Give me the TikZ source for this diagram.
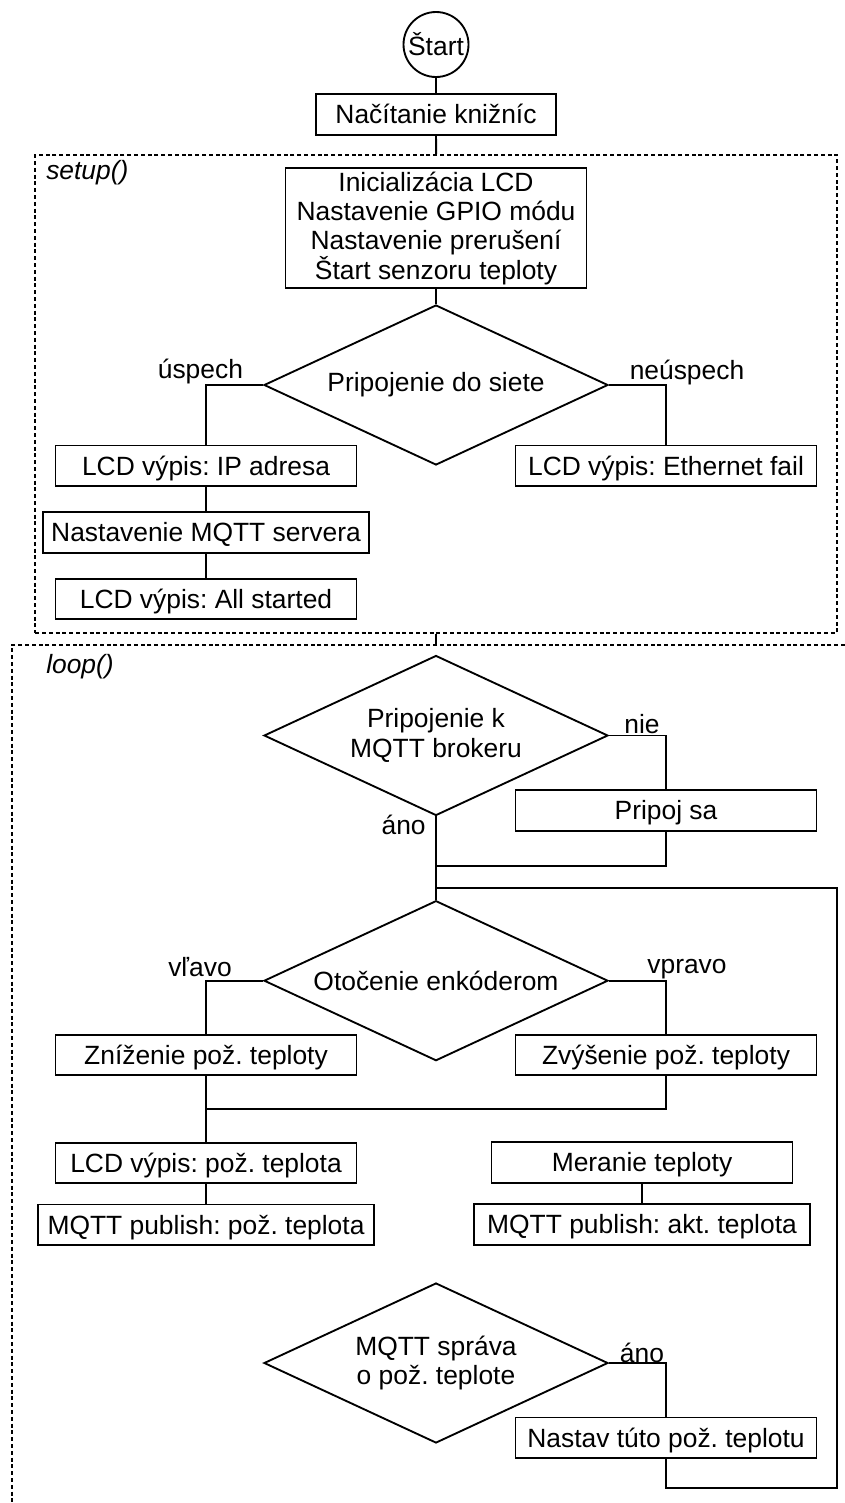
\documentclass[tikz,border=0pt]{standalone}
\usepackage{fontspec}
\setmainfont{Liberation Sans}
\usetikzlibrary{shapes.geometric}
\newcommand\diagfont{\fontsize{19.8pt}{22pt}\selectfont\frenchspacing}
\begin{document}
\begin{tikzpicture}[x=0.75pt,y=-0.75pt,
  every node/.style={font=\diagfont},
  line/.style={line width=1.4pt},
  box/.style={draw, line width=1.4pt, rectangle, inner sep=0pt,
    minimum width=225.75pt, minimum height=30.4pt, align=center},
  proc/.style={box, text height=18.2pt, text depth=4.2pt},
  decision/.style={draw, line width=1.4pt, diamond, aspect=2.15, inner sep=0pt,
    minimum width=258pt, minimum height=120pt, align=center},
  group/.style={draw, line width=1.3pt, dash pattern=on 3pt off 2.1pt,
    rectangle, inner sep=0pt},
  grouplabel/.style={anchor=west, inner sep=0pt, font=\diagfont\itshape},
  lbl/.style={inner sep=0pt},
]
\useasboundingbox (0,0) rectangle (845,1503);
\clip (0,0) rectangle (845,1503);

% ---- start and libraries
\node[circle, draw, line width=1.4pt, inner sep=0pt, minimum size=48.75pt] (start) at (436,44.5) {Štart};
\node[proc, minimum width=180pt, minimum height=30.5pt] (lib) at (436,114.3) {Načítanie knižníc};

% ---- setup()
\node[group, minimum width=601.35pt, minimum height=358.5pt] (setup) at (436.1,394) {};
\node[grouplabel] (setuplbl) at (46,173) {setup()};
\node[box, minimum height=90pt] (init) at (436,228.3)
  {Inicializácia LCD\\Nastavenie GPIO módu\\Nastavenie prerušení\\Štart senzoru teploty};
\node[decision] (net) at (436,385) {Pripojenie do siete};
\node[proc] (ip) at (206,465.7) {LCD výpis: IP adresa};
\node[proc] (eth) at (666,465.7) {LCD výpis: Ethernet fail};
\node[proc, minimum width=244.5pt] (mqtts) at (206,532.3) {Nastavenie MQTT servera};
\node[proc] (allst) at (206,599) {LCD výpis: All started};
\node[lbl] (lok) at (200.4,371.7) {úspech};
\node[lbl] (lfail) at (687,373) {neúspech};

% ---- loop()
\node[group, minimum width=643.5pt, minimum height=663.75pt] (loopbox) at (441,1087.5) {};
\node[grouplabel] (looplbl) at (46,667) {loop()};
\node[decision] (mqttc) at (436,735.5) {Pripojenie k\\MQTT brokeru};
\node[proc] (pripoj) at (666,810.5) {Pripoj sa};
\node[lbl] (lnie) at (642,724) {nie};
\node[lbl] (lano1) at (403.6,825) {áno};
\node[decision] (enc) at (436,980.7) {Otočenie enkóderom};
\node[lbl] (lleft) at (200,967) {vľavo};
\node[lbl] (lright) at (687,969) {vpravo};
\node[proc] (zniz) at (206,1055) {Zníženie pož. teploty};
\node[proc] (zvys) at (666,1055) {Zvýšenie pož. teploty};
\node[proc] (lcdp) at (206,1163) {LCD výpis: pož. teplota};
\node[proc, minimum width=252pt] (pubp) at (206,1224.7) {MQTT publish: pož. teplota};
\node[proc] (meran) at (642,1162.5) {Meranie teploty};
\node[proc, minimum width=252pt] (puba) at (642,1224.5) {MQTT publish: akt. teplota};
\node[decision] (msg) at (436,1363) {MQTT správa\\o pož. teplote};
\node[lbl] (lano2) at (642,1352.7) {áno};
\node[proc] (nastav) at (666,1437.8) {Nastav túto pož. teplotu};

% ---- helper points for joins
\coordinate (join1) at (436,865.7);
\coordinate (join2) at (436,888);
\coordinate (backcorner) at (837,1488.3);
\coordinate (join3) at (206,1109.3);

% ---- connectors
\draw[line] (start) -- (lib);
\draw[line] (lib) -- (setup.north);
\draw[line] (init) -- (net);
\draw[line] (net.west) -| (ip.north);
\draw[line] (net.east) -| (eth.north);
\draw[line] (ip) -- (mqtts);
\draw[line] (mqtts) -- (allst);
\draw[line] (setup.south) -- (setup.south |- loopbox.north);
\draw[line] (mqttc.east) -| (pripoj.north);
\draw[line] (mqttc.south) -- (enc.north);
\draw[line] (pripoj.south) |- (join1);
\draw[line] (nastav.south) |- (backcorner) |- (join2);
\draw[line] (enc.west) -| (zniz.north);
\draw[line] (enc.east) -| (zvys.north);
\draw[line] (zvys.south) |- (join3);
\draw[line] (zniz) -- (lcdp);
\draw[line] (lcdp) -- (pubp);
\draw[line] (meran) -- (puba);
\draw[line] (msg.east) -| (nastav.north);
\end{tikzpicture}
\end{document}
